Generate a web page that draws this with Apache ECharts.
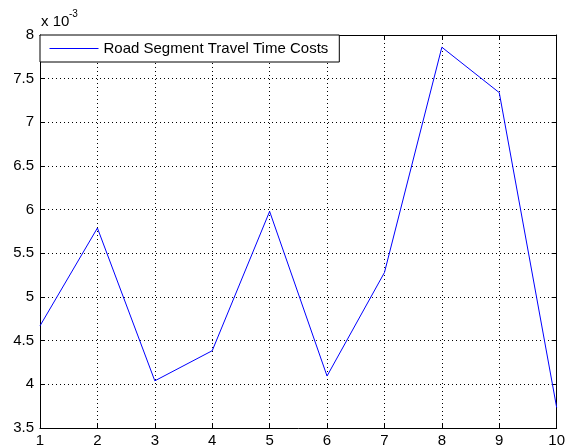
<!DOCTYPE html>
<html>
<head>
<meta charset="utf-8">
<script src="https://cdn.jsdelivr.net/npm/echarts@6/dist/echarts.min.js"></script>
<style>html,body{margin:0;padding:0;background:#fff;}#c{width:568px;height:448px;}</style>
</head>
<body>
<div id="c"></div>
<script>
// Values in units of 10^-3
var xValues = [1, 2, 3, 4, 5, 6, 7, 8, 9, 10];
var costValues = [4.67, 5.79, 4.04, 4.385, 5.98, 4.095, 5.28, 7.86, 7.34, 3.735];
var seriesName = 'Road Segment Travel Time Costs';
var exponentBase = 'x 10';
var exponentPower = '-3';

var points = xValues.map(function (x, i) { return [x, costValues[i]]; });
var FONT = 'Liberation Sans, Arial, sans-serif';

var chart = echarts.init(document.getElementById('c'), null, {renderer: 'canvas'});
var axisCommon = {
  axisLine: {show: true, onZero: false, lineStyle: {color: '#000', width: 1}},
  axisTick: {show: true, inside: true, length: 5, lineStyle: {color: '#000', width: 1}}
};
chart.setOption({
  animation: false,
  backgroundColor: '#fff',
  grid: {left: 40, top: 35, right: 7, bottom: 20, containLabel: false},
  legend: {
    show: true,
    data: [seriesName],
    left: 40, top: 35,
    orient: 'horizontal',
    backgroundColor: '#fff',
    borderColor: '#000',
    borderWidth: 1,
    borderRadius: 0,
    padding: [6, 11, 6, 9],
    itemWidth: 49,
    itemHeight: 14,
    itemStyle: {opacity: 0, borderWidth: 0},
    lineStyle: {color: '#0000ff', width: 1, opacity: 1},
    textStyle: {fontFamily: FONT, fontSize: 15, color: '#000'},
    z: 10
  },
  xAxis: [
    Object.assign({
      type: 'value', position: 'bottom', min: 1, max: 10, interval: 1,
      axisLabel: {color: '#000', fontFamily: FONT, fontSize: 15, margin: 5},
      splitLine: {show: true, lineStyle: {color: '#000', width: 1, type: [1, 3]}}
    }, axisCommon),
    Object.assign({
      type: 'value', position: 'top', min: 1, max: 10, interval: 1,
      axisLabel: {show: false}, splitLine: {show: false}
    }, axisCommon)
  ],
  yAxis: [
    Object.assign({
      type: 'value', position: 'left', min: 3.5, max: 8, interval: 0.5,
      axisLabel: {color: '#000', fontFamily: FONT, fontSize: 15, margin: 6},
      splitLine: {show: true, lineStyle: {color: '#000', width: 1, type: [1, 3]}}
    }, axisCommon),
    Object.assign({
      type: 'value', position: 'right', min: 3.5, max: 8, interval: 0.5,
      axisLabel: {show: false}, splitLine: {show: false}
    }, axisCommon)
  ],
  graphic: [
    {type: 'text', left: 41, top: 14, style: {text: exponentBase, fontFamily: FONT, fontSize: 15, fill: '#000'}},
    {type: 'text', left: 69, top: 9, style: {text: exponentPower, fontFamily: FONT, fontSize: 10, fill: '#000'}}
  ],
  series: [{
    name: seriesName,
    type: 'line',
    xAxisIndex: 0, yAxisIndex: 0,
    data: points,
    symbol: 'none',
    showSymbol: false,
    lineStyle: {color: '#0000ff', width: 1},
    itemStyle: {color: '#0000ff'},
    z: 5
  }]
});
</script>
</body>
</html>
